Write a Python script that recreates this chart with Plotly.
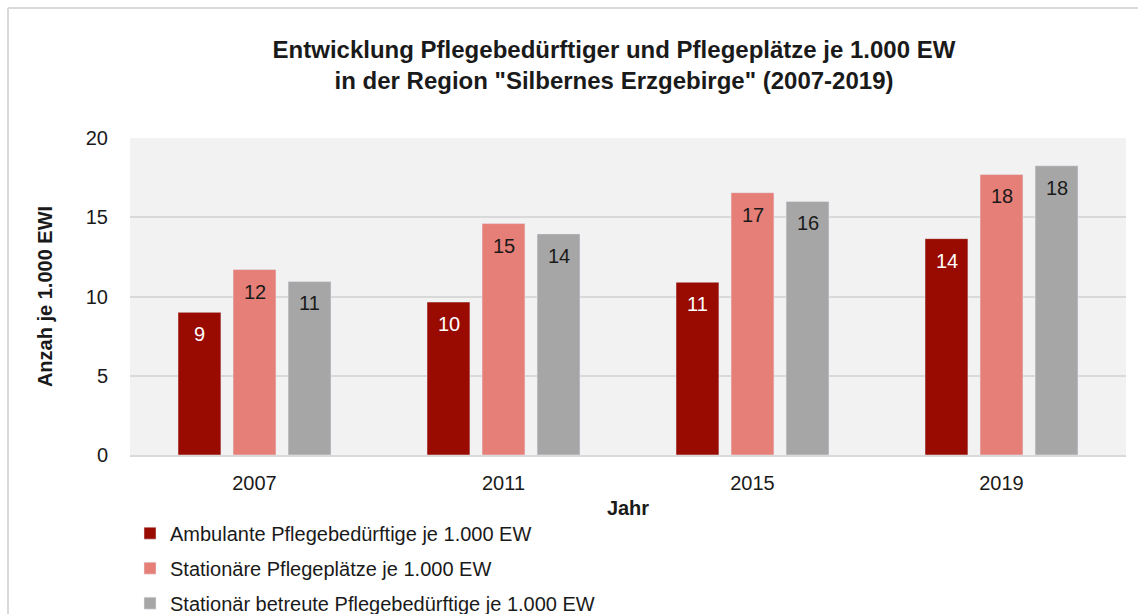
import plotly.graph_objects as go

years = ["2007", "2011", "2015", "2019"]
series_names = [
    "Ambulante Pflegebedürftige je 1.000 EW",
    "Stationäre Pflegeplätze je 1.000 EW",
    "Stationär betreute Pflegebedürftige je 1.000 EW",
]
ambulant = [9.0, 9.65, 10.9, 13.65]
plaetze = [11.7, 14.6, 16.55, 17.7]
betreut = [10.95, 13.95, 16.0, 18.25]
labels_ambulant = ["9", "10", "11", "14"]
labels_plaetze = ["12", "15", "17", "18"]
labels_betreut = ["11", "14", "16", "18"]

colors = ["#990a00", "#e57f77", "#a6a6a6"]
text_colors = ["white", "#1a1a1a", "#1a1a1a"]
values = [ambulant, plaetze, betreut]
labels = [labels_ambulant, labels_plaetze, labels_betreut]

W, H = 1138, 614
ML, MR, MT, MB = 130, 12, 138, 159
PW, PH = W - ML - MR, H - MT - MB
FONT = "Liberation Sans, Arial, sans-serif"

fig = go.Figure()
for i, (name, vals) in enumerate(zip(series_names, values)):
    fig.add_trace(go.Bar(
        x=years, y=vals, name=name, marker_color=colors[i],
        legendgroup=f"g{i}", hoverinfo="skip",
    ))

# value labels inside bars, just below the top
offsets = [-55, 0, 55]
for i in range(3):
    for j in range(len(years)):
        fig.add_annotation(
            x=j, y=values[i][j], text=labels[i][j], showarrow=False,
            xshift=offsets[i], yshift=-22,
            font=dict(size=20, color=text_colors[i], family=FONT),
        )

# light outer border (top and left)
bx, by = 8, 8
fig.add_shape(type="line", xref="paper", yref="paper",
              x0=(bx - ML) / PW, x1=(W - ML) / PW,
              y0=(PH + MT - by) / PH, y1=(PH + MT - by) / PH,
              line=dict(color="#d9d9d9", width=2))
fig.add_shape(type="line", xref="paper", yref="paper",
              x0=(bx - ML) / PW, x1=(bx - ML) / PW,
              y0=(PH + MT - by) / PH, y1=-MB / PH,
              line=dict(color="#d9d9d9", width=2))

fig.update_layout(
    width=W, height=H,
    margin=dict(l=ML, r=MR, t=MT, b=MB, autoexpand=False),
    paper_bgcolor="white", plot_bgcolor="#f2f2f2",
    font=dict(family=FONT, size=20, color="#1a1a1a"),
    title=dict(
        text="<b>Entwicklung Pflegebedürftiger und Pflegeplätze je 1.000 EW<br>in der Region \"Silbernes Erzgebirge\" (2007-2019)</b>",
        x=614 / W, xanchor="center", y=1 - 58 / H, yanchor="middle",
        font=dict(size=24, color="#1a1a1a"),
    ),
    barmode="group", bargap=0.337, bargroupgap=0.22,
    showlegend=True,
    legend=dict(
        orientation="v", x=0.0, xanchor="left", y=-0.185, yanchor="top",
        font=dict(size=20), traceorder="grouped", tracegroupgap=6,
        bgcolor="rgba(0,0,0,0)", itemwidth=30,
    ),
    xaxis=dict(
        type="category", automargin=False, range=[-0.5, 3.5],
        title=dict(text="<b>Jahr</b>", font=dict(size=20), standoff=8),
        showgrid=False, ticks="outside", ticklen=9, tickcolor="rgba(0,0,0,0)",
        showline=True, linecolor="#d9d9d9", linewidth=2,
        tickfont=dict(size=20),
    ),
    yaxis=dict(
        automargin=False,
        title=dict(text="<b>Anzah je 1.000 EWI</b>", font=dict(size=20), standoff=27),
        range=[0, 20], dtick=5, showgrid=True, gridcolor="#d9d9d9", gridwidth=2,
        zeroline=False, ticks="outside", ticklen=17, tickcolor="rgba(0,0,0,0)",
        tickfont=dict(size=20),
    ),
)

fig.write_html("out.html", config={"displayModeBar": False},
               post_script="document.body.style.margin='0';")
